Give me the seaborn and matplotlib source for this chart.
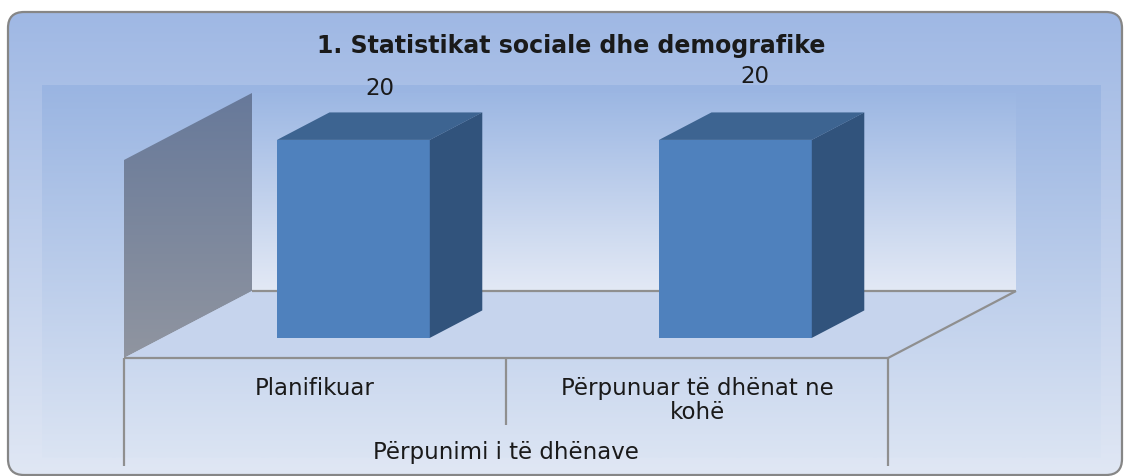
import numpy as np
import pandas as pd
import matplotlib
matplotlib.use("Agg")
import matplotlib.pyplot as plt
import matplotlib.colors as mcolors
import seaborn as sns
from matplotlib.patches import Polygon, FancyBboxPatch, Rectangle
from matplotlib.transforms import Affine2D

# ---------------- data ----------------
title = "1. Statistikat sociale dhe demografike"
categories = ["Planifikuar", "Përpunuar të dhënat ne\nkohë"]
values = [20, 20]
value_labels = ["20", "20"]
group_label = "Përpunimi i të dhënave"
axis_max = 20

# ---------------- layout (pixels of the 1125x476 canvas) ----------------
W, H = 1125, 476
PX0, PX_UNIT = 124, 382      # front plane: left edge px, px per category
PY0, PY_UNIT = 358, 9.9      # front plane: floor px, px per value unit
DEPTH_PX = (128, 67)         # full depth offset (right, up)
BAR_FRONT, BAR_DEPTH, BAR_WIDTH = 0.30, 0.41, 0.40
LABEL_OFFSETS = [(0, 38), (-7, 50)]   # value label offsets (px)
FS = 16.5


def X(px):
    return -0.5 + (px - PX0) / PX_UNIT


def Y(py):
    return (PY0 - py) / PY_UNIT


DX = DEPTH_PX[0] / PX_UNIT
DY = DEPTH_PX[1] / PY_UNIT

sns.set_theme(style="white")
plt.rcParams["font.family"] = ["DejaVu Sans"]

fig = plt.figure(figsize=(W / 100, H / 100), dpi=100)


def vgrad(ax, extent, top, bottom, clip, zorder):
    t = np.linspace(0, 1, 256)[:, None, None]
    c0 = np.array(mcolors.to_rgb(top))[None, None, :]
    c1 = np.array(mcolors.to_rgb(bottom))[None, None, :]
    img = c0 * (1 - t) + c1 * t
    im = ax.imshow(img, extent=extent, origin="upper", aspect="auto",
                   zorder=zorder, interpolation="bilinear")
    im.set_clip_path(clip)
    return im


# ---------------- background (chart area) ----------------
ax_bg = fig.add_axes([0, 0, 1, 1])
ax_bg.set_xlim(0, W)
ax_bg.set_ylim(H, 0)
ax_bg.axis("off")

box = FancyBboxPatch((8, 12), 1114, 463,
                     boxstyle="round,pad=0,rounding_size=16",
                     facecolor="none", edgecolor="#868686", linewidth=1.6,
                     zorder=5)
ax_bg.add_patch(box)
vgrad(ax_bg, (8, 1122, 475, 12), "#9fb8e4", "#e0e7f4", box, 1)

plot_rect = Rectangle((42, 85), 1059, 373, facecolor="none", edgecolor="none")
ax_bg.add_patch(plot_rect)
vgrad(ax_bg, (42, 1101, 458, 85), "#9ab5e2", "#dbe4f3", plot_rect, 2)
ax_bg.set_xlim(0, W)
ax_bg.set_ylim(H, 0)

ax_bg.text(571, 46, title, ha="center", va="center", fontsize=17,
           fontweight="bold", color="#1a1a1a", zorder=6)

# ---------------- main 3D-ish chart ----------------
ax = fig.add_axes([0, 0, 1, 1])
ax.patch.set_alpha(0)

df = pd.DataFrame({"cat": categories, "val": values})
sns.barplot(data=df, x="cat", y="val", color="#4f81bd", saturation=1,
            width=BAR_WIDTH, ax=ax, zorder=6, linewidth=0)
bars = list(ax.patches)

# back wall
wall = Rectangle((-0.5 + DX, DY), 2, axis_max, facecolor="none",
                 edgecolor="none")
ax.add_patch(wall)
vgrad(ax, (-0.5 + DX, 1.5 + DX, DY, axis_max + DY), "#9cb7e3", "#e3e9f5",
      wall, 1)

# side wall
side_wall = Polygon([(-0.5, 0), (-0.5, axis_max), (-0.5 + DX, axis_max + DY),
                     (-0.5 + DX, DY)], closed=True, facecolor="none",
                    edgecolor="none")
ax.add_patch(side_wall)
vgrad(ax, (-0.5, -0.5 + DX, 0, axis_max + DY), "#67799a", "#9095a0",
      side_wall, 2)

# floor
floor = Polygon([(-0.5, 0), (1.5, 0), (1.5 + DX, DY), (-0.5 + DX, DY)],
                closed=True, facecolor="#c6d4ed", edgecolor="none", zorder=3)
ax.add_patch(floor)
line_kw = dict(color="#8f8f8f", linewidth=1.6, zorder=4,
               solid_capstyle="butt")
ax.plot([-0.5 + DX, 1.5 + DX], [DY, DY], **line_kw)
ax.plot([1.5, 1.5 + DX], [0, DY], **line_kw)
ax.plot([-0.5, 1.5], [0, 0], **line_kw)

# category separators (ticks)
ax.plot([-0.5, -0.5], [0, Y(466)], **line_kw)
ax.plot([0.5, 0.5], [0, Y(425)], **line_kw)
ax.plot([1.5, 1.5], [0, Y(466)], **line_kw)

# bars: shift into depth and add top / side faces
ox, oy = BAR_FRONT * DX, BAR_FRONT * DY
bdx, bdy = BAR_DEPTH * DX, BAR_DEPTH * DY
for p, lab, (lx, ly) in zip(bars, value_labels, LABEL_OFFSETS):
    x0, w, h = p.get_x(), p.get_width(), p.get_height()
    p.set_transform(Affine2D().translate(ox, oy) + ax.transData)
    p.set_zorder(6)
    top = Polygon([(x0 + ox, h + oy), (x0 + w + ox, h + oy),
                   (x0 + w + ox + bdx, h + oy + bdy),
                   (x0 + ox + bdx, h + oy + bdy)],
                  closed=True, facecolor="#3d6491", edgecolor="none", zorder=6)
    side = Polygon([(x0 + w + ox, oy), (x0 + w + ox, h + oy),
                    (x0 + w + ox + bdx, h + oy + bdy),
                    (x0 + w + ox + bdx, oy + bdy)],
                   closed=True, facecolor="#31537c", edgecolor="none", zorder=6)
    ax.add_patch(top)
    ax.add_patch(side)
    ax.annotate(lab, xy=(x0 + w / 2 + ox + bdx / 2, h + oy + bdy / 2),
                xytext=(lx, ly), textcoords="offset pixels",
                ha="center", va="center", fontsize=FS, color="#1a1a1a",
                zorder=7)

# category labels and group label
for i, c in enumerate(categories):
    ax.text(i, Y(377), c, ha="center", va="top", fontsize=FS,
            color="#1a1a1a", linespacing=1.08, zorder=7)
ax.text(0.5, Y(453), group_label, ha="center", va="center", fontsize=FS,
        color="#1a1a1a", zorder=7)

ax.set_xlim(X(0), X(W))
ax.set_ylim(Y(H), Y(0))
ax.axis("off")

fig.savefig("out.png", dpi=100)
